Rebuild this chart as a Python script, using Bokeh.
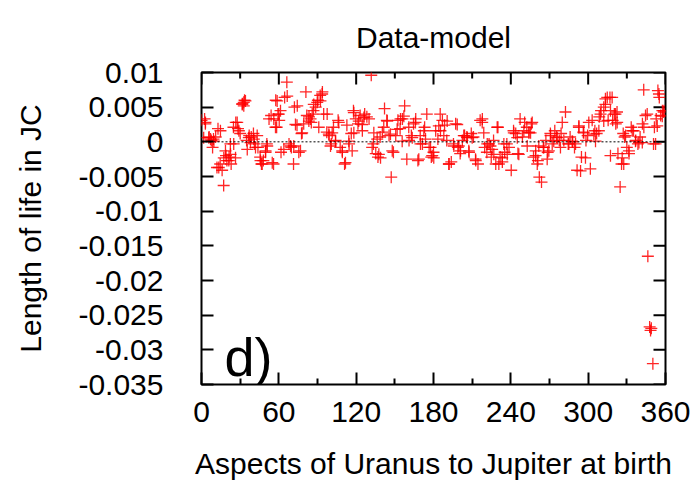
import math
from bokeh.plotting import figure
from bokeh.models import FixedTicker, Span, Label, Range1d, ColumnDataSource, Title
from bokeh.embed import file_html
from bokeh.resources import INLINE

# Aspect angle of Uranus to Jupiter at birth (degrees)
aspect = [
    # 0-60
    0, 2.4, 3, 1.7, 5.9, 7.6, 9.3, 11, 8.6, 12.8, 12, 14.5, 16, 17.2, 19, 19.7, 21.4, 23, 22.4, 24.8,
    26.6, 28.3, 30, 31.7, 33.4, 32.8, 35, 37, 38.6, 40.3, 41, 43.8, 45.5, 46.5, 48, 49.7, 50.7, 52.4,
    54, 55.9, 57.6, 58.3, 59.3,
    3.1, 7, 9.6, 5.7, 14.7, 18.6, 17.3, 13.4, 21.2, 22.5, 26.4, 25, 27.7, 29, 32.8, 31.6, 34.1, 36.7,
    38, 40.6, 43.2, 35.5, 41.9, 45.8, 47.1, 49.7, 51, 54.9, 56.1, 58.7, 57.4,
    # 60-120
    60.3, 61.7, 64.5, 66.2, 67.9, 69.7, 71.4, 72.1, 74.1, 75.5, 77.6, 79.3, 81, 81.7, 83.4, 85.2, 86.9,
    88.6, 90.3, 92.1, 93.8, 94.8, 97.2, 99, 100.7, 102.4, 104, 106, 107.6, 109.3, 111, 112.8, 114.5,
    116.2, 117.9, 119.7,
    60, 61.3, 63.9, 66.5, 69.1, 71.6, 74.3, 76.8, 72.9, 78.1, 83.3, 84.6, 85.9, 87.1, 89.8, 92.3, 93.6,
    91, 97.5, 98.8, 101.4, 100.1, 104, 106.5, 109.2, 111.7, 114.3, 118.2, 116.9, 118.2,
    # 120-180
    121.4, 123.1, 124.8, 126.6, 128.3, 130, 131.7, 133.4, 135.2, 136.9, 138.6, 140.3, 142, 143.8, 145.5,
    147.2, 148.9, 150.7, 152.4, 154.1, 155.9, 157.6, 159.3, 161, 162.8, 164.5, 166.2, 167.9, 169.7,
    171.4, 173.1, 174.8, 176.6, 178.3,
    122, 126, 124.7, 133.7, 136.3, 132.4, 137.6, 138.9, 144.1, 141.4, 146.6, 148, 151.8, 154.4, 157,
    155.7, 160.8, 163.5, 166, 168.6, 169.9, 172.5, 173.8, 177.7, 179,
    # 180-240
    180, 181.7, 183.4, 185.2, 186.9, 188.6, 190.3, 192.1, 193.8, 195.5, 197.2, 198.9, 200.7, 202.4,
    204.1, 205.9, 207.6, 209.3, 211, 212.8, 214.5, 216.2, 217.9, 219.7, 221.4, 223.1, 224.8, 226.6,
    228.3, 230, 231.7, 233.4, 235.2, 236.9, 238.6,
    180.2, 184.1, 185.4, 188, 190.6, 191.9, 195.8, 198.4, 199.6, 201, 203.5, 206.2, 207.4, 210, 212.6,
    217.8, 219, 221.7, 224.2, 225.5, 226.8, 229.4, 230.7, 233.3, 234.6, 237.2,
    # 240-300
    240.3, 242.1, 243.8, 245.5, 247.2, 249, 250.7, 252.4, 254.1, 255.9, 257.6, 259.3, 261, 262.1, 263.8,
    265.2, 267.2, 268.6, 270.7, 272.1, 274.1, 275.5, 277.6, 279, 281.1, 282.4, 284.5, 286, 288, 289.4,
    291.4, 292.8, 294.8, 296.2, 298.3, 299.6,
    242.3, 245, 246.2, 250.1, 252.7, 254, 256.6, 255.3, 259.2, 260.5, 261.7, 265.6, 268.2, 269.5, 270.8,
    273.3, 276, 278.5, 279.9, 285, 287.6, 290.2, 292.8, 294.1, 296.6, 297.9,
    # 300-360
    301.7, 303.1, 305.2, 306.6, 308.6, 310, 312.1, 313.4, 315.5, 316.9, 319, 320.3, 321.4, 322.4, 323.1,
    324.8, 325.9, 327.2, 328.3, 330, 331.7, 333.4, 335.2, 336.9, 338.6, 340.3, 342.1, 343.1, 344.5,
    346.3, 347.7, 348.4, 349, 350.2, 350.7, 351.4, 352.8, 354.1, 355.2, 356.2, 357.6, 358.6,
    300.5, 304.4, 305.7, 308.3, 309.6, 312.1, 313.4, 314.8, 317.3, 318.6, 317.3, 321.2, 322.5, 326.4,
    327.6, 329, 331.6, 334.2, 336.7, 339.4, 342, 343.2, 345.8, 352.3, 353.6, 354.9, 357.5, 358.8,
]

# Length of life in JC (data - model), read in units of 0.001 JC
length_milli = [
    # 0-60
    3.1, 3.3, 2.6, 0.6, 0.7, 0.2, 0.4, 0.7, -0.8, 1.9, -3.7, -3.2, -4.1, -6.3, -2.0, -2.7, -2.2, -3.2, -0.3, 2.1,
    2.8, 1.9, 1.2, 5.5, 6.0, 5.2, 0.2, 0.9, 0.7, 1.2, -0.3, -0.8, -2.2, -3.2, -2.7, -1.5, -0.3, 3.3,
    3.8, -3.2, 6.0, 2.1, 4.0,
    2.8, 0.4, 0.1, 0.6, 1.6, -1.3, -2.3, -3.7, -2.7, -1.8, -2.3, -0.3, 2.8, 1.6, 5.7, 5.4, 5.9, 0.6,
    -0.1, 0.4, 0.9, -1.1, -0.8, -2.7, -3.2, -1.3, -0.6, -3.0, 3.3, 5.9, 2.1,
    # 60-120
    3.1, -1.5, 6.4, 8.6, -0.3, -0.8, -3.2, 5.0, 2.4, -1.5, 1.2, 2.6, 7.2, 3.8, 3.6, 2.8, 4.5,
    5.0, 6.0, 6.7, 7.2, 4.0, 1.4, 0.9, -0.3, 2.1, 0.2, 3.1, -0.8, -1.5, -3.2, 2.4, -0.3,
    1.2, 4.5, 3.3,
    4.0, 4.5, -1.1, 6.6, -0.6, -0.6, 5.2, -1.3, 2.5, 1.3, 3.0, 3.3, 4.0, 5.4, 5.7, 5.9, 6.9,
    2.1, 4.0, 1.1, 1.3, -0.6, 0.1, 2.8, -1.3, -3.0, 0.1, 1.3, -1.3, 4.2,
    # 120-180
    2.6, 3.8, 1.6, 4.0, 3.6, 3.3, 9.6, -0.3, -1.7, -2.2, 0.7, 1.4, 4.8, 3.1, 0.9,
    -5.1, -1.5, 0.9, 3.1, 1.9, 3.3, 5.2, -2.5, 0.2, 0.9, 2.6, 3.3, -2.7, 0.9,
    -0.3, 2.1, 4.0, -0.8, -2.2,
    3.0, 3.5, 2.5, 1.3, 0.4, -0.8, -1.8, -2.3, 3.0, 2.1, 1.1, -1.3, 1.8, 3.3, 3.7,
    0.1, 2.1, 0.6, 2.8, -2.5, -0.3, 1.6, 0.4, -0.8, -2.0,
    # 180-240
    -1.5, 1.6, 0.4, 4.0, 3.1, 2.4, 0.2, -3.2, -2.9, -0.3, 2.6, -0.8, -1.7, 0.2,
    0.9, 0.7, -1.5, 1.2, 0.7, -2.7, -3.2, 3.1, 3.3, -0.8, -1.5, -0.3, -2.2, 0.2,
    -3.2, 2.1, -2.2, -2.9, -1.5, -0.3, -0.8,
    -2.3, 2.3, 1.6, 0.9, 3.0, -3.2, -0.6, 2.5, -0.6, -1.3, 0.9, 0.6, -1.3, 0.6, -2.5,
    2.8, 1.3, -0.3, -0.6, -1.1, -1.8, 2.1, -3.2, -2.3, -0.3, -1.8,
    # 240-300
    -4.1, 1.6, 1.2, -1.7, 3.3, 0.7, 2.8, 2.1, 1.4, 2.6, -2.2, -1.3, -2.7, -5.1, -5.8,
    -0.8, 0.2, -1.5, 1.2, -0.3, 1.6, 0.7, 0.2, 1.2, 0.2, 4.3, -0.3, 0.7, 0.0, -0.8,
    -4.1, 2.1, -2.2, 1.4, 0.2, 0.9,
    1.3, 0.6, -1.8, 1.6, -0.6, 1.3, 2.8, 1.3, -2.0, -3.2, -0.6, -0.8, -2.5, -1.3, 0.9,
    0.1, 0.6, -0.8, 2.8, -0.3, 0.1, -0.3, 2.3, -4.2, 1.3, -2.3,
    # 300-360
    -3.9, 3.1, 1.6, 1.2, 3.6, 4.5, 5.0, 6.2, 3.1, 6.4, 3.1, 4.0, 2.6, 4.3, -1.7,
    -6.5, -3.2, 1.2, 0.7, -0.8, -1.7, 2.1, 1.6, 0.2, -0.3, 0.7, 2.6, 7.5, 3.8,
    -16.5, -26.7, -27.2, -26.9, -32.0, -0.3, 2.1, 3.3, 7.4, 6.4, 3.8, 4.5, 4.3,
    2.8, 1.1, 0.1, 1.6, 4.0, 3.0, 5.4, 6.4, 4.5, 6.4, -2.0, 4.0, 2.8, -2.3,
    -3.2, 0.9, -1.3, 1.6, 0.1, -0.1, -0.1, 2.1, 4.0, -0.3, 2.3, 6.9, 3.7, 4.5,
]

x_ticks = [0, 60, 120, 180, 240, 300, 360]
x_minor_ticks = [30, 90, 150, 210, 270, 330]
x_tick_labels = ["0", "60", "120", "180", "240", "300", "360"]
y_ticks = [0.01, 0.005, 0, -0.005, -0.01, -0.015, -0.02, -0.025, -0.03, -0.035]
y_tick_labels = ["0.01", "0.005", "0", "-0.005", "-0.01", "-0.015", "-0.02", "-0.025", "-0.03", "-0.035"]

title_text = "Data-model"
x_label = "Aspects of Uranus to Jupiter at birth"
y_label = "Length of life in JC"
panel_tag = "d)"

FONT = "Liberation Sans"
FS = "30px"

source = ColumnDataSource(data=dict(
    aspect=aspect,
    length=[v * 0.001 for v in length_milli],
))

x_lo, x_hi = x_ticks[0], x_ticks[-1]
y_lo, y_hi = y_ticks[-1], y_ticks[0]

p = figure(
    width=697, height=483,
    output_backend="svg", toolbar_location=None,
    x_range=Range1d(x_lo, x_hi),
    y_range=Range1d(y_lo, y_hi),
    min_border_left=201, min_border_right=32,
    min_border_top=72, min_border_bottom=99,
)
p.title = None
p.background_fill_color = "white"
p.border_fill_color = "white"
p.outline_line_color = "black"
p.outline_line_width = 2
p.outline_line_alpha = 1.0
p.xgrid.visible = False
p.ygrid.visible = False

xax = p.below[0]
yax = p.left[0]
xax.ticker = FixedTicker(ticks=x_ticks, minor_ticks=x_minor_ticks)
yax.ticker = FixedTicker(ticks=y_ticks)
xax.major_label_overrides = {t: s for t, s in zip(x_ticks, x_tick_labels)}
yax.major_label_overrides = {t: s for t, s in zip(y_ticks, y_tick_labels)}
for ax in (xax, yax):
    ax.axis_line_color = None
    ax.major_tick_line_color = "black"
    ax.major_tick_line_width = 2
    ax.minor_tick_line_color = "black"
    ax.minor_tick_line_width = 2
    ax.major_tick_in = 12
    ax.major_tick_out = 0
    ax.minor_tick_in = 6
    ax.minor_tick_out = 0
    ax.major_label_text_font = FONT
    ax.major_label_text_font_size = FS
    ax.major_label_text_color = "black"
    ax.axis_label_text_font = FONT
    ax.axis_label_text_font_size = FS
    ax.axis_label_text_font_style = "normal"
    ax.axis_label_text_color = "black"

xax.major_label_standoff = 17
xax.axis_label = x_label
xax.axis_label_standoff = 22
yax.major_label_standoff = 38
yax.axis_label = y_label
yax.axis_label_standoff = 28

# title, aligned to the top of its panel so that it sits well above the frame
p.add_layout(Title(text=title_text, text_font=FONT, text_font_size=FS,
                   text_font_style="normal", text_color="black",
                   align="center", vertical_align="top", standoff=34), "above")

# mirrored tick marks on the top and right borders (half of each dash is clipped by the frame)
p.scatter(x_ticks, [y_hi] * len(x_ticks), marker="dash", angle=math.pi / 2, size=24,
          line_color="black", line_width=2)
p.scatter(x_minor_ticks, [y_hi] * len(x_minor_ticks), marker="dash", angle=math.pi / 2, size=12,
          line_color="black", line_width=2)
p.scatter([x_hi] * len(y_ticks), y_ticks, marker="dash", size=24,
          line_color="black", line_width=2)

# zero reference line (dotted)
p.add_layout(Span(location=0, dimension="width", line_color="black",
                  line_width=1, line_dash="2 2"))

p.scatter("aspect", "length", source=source, marker="cross", size=12,
          line_color="#ff0000", line_width=1.3, line_alpha=0.85)

# panel tag
p.add_layout(Label(x=x_lo, y=y_lo, x_offset=23, y_offset=58,
                   text=panel_tag, text_font=FONT, text_font_size="54px",
                   text_align="left", text_baseline="top", text_color="black"))

open("out.html", "w").write(file_html(p, INLINE))
